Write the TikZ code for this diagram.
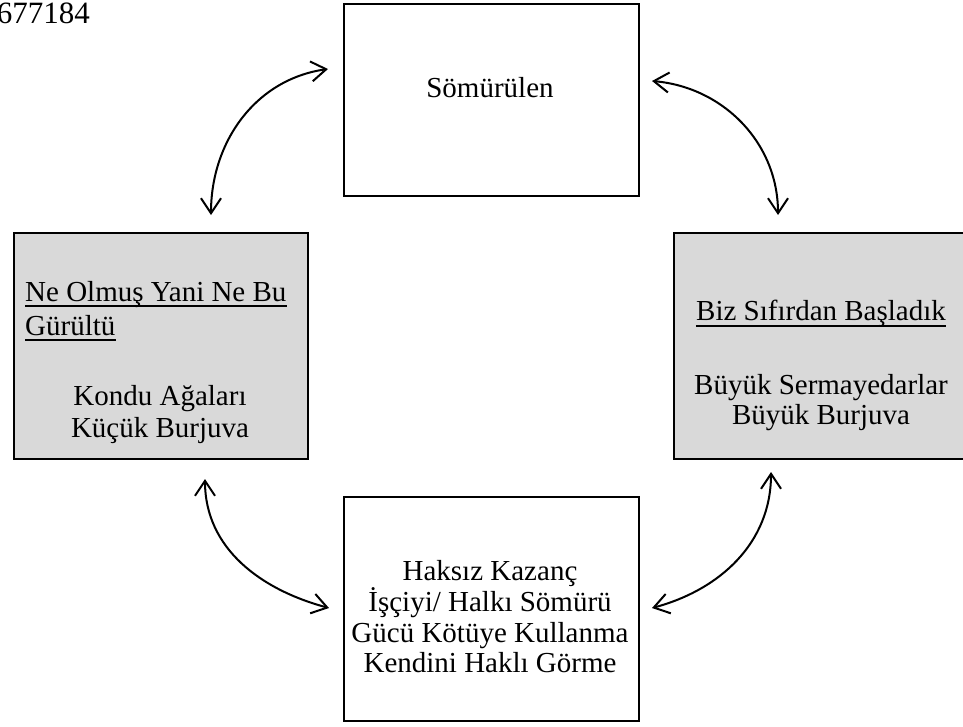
\documentclass[tikz,border=0pt]{standalone}
\usepackage{fontspec}
\setmainfont{Liberation Serif}
\usetikzlibrary{arrows.meta}
\definecolor{boxgrey}{RGB}{217,217,217}
\begin{document}
\begin{tikzpicture}[x=1pt,y=-1pt,
  frame/.style={draw=black,line width=2pt,inner sep=0pt,anchor=north west},
  panel/.style={frame,fill=boxgrey},
  lbl/.style={inner sep=0pt,font=\fontsize{29}{30}\selectfont,anchor=base},
  lbll/.style={lbl,anchor=base west},
  ul/.style={line width=1.5pt},
  link/.style={line width=2pt,
    {Straight Barb[length=15pt,width=20pt]}-{Straight Barb[length=15pt,width=20pt]}}]
\useasboundingbox (0,0) rectangle (963,726);

% reference number
\node[lbl,anchor=base east,font=\fontsize{31}{32}\selectfont] (code) at (90,23) {677184};

% boxes
\node[frame,minimum width=295pt,minimum height=192pt] (top) at (343,3) {};
\node[panel,minimum width=294pt,minimum height=226pt] (left) at (13,232) {};
\node[panel,minimum width=296pt,minimum height=226pt] (right) at (673,232) {};
\node[frame,minimum width=295pt,minimum height=224pt] (bottom) at (343,496) {};

% top box
\node[lbl] (tS) at (490,97) {Sömürülen};

% left box
\node[lbll] (l1) at (25,301) {Ne Olmuş Yani Ne Bu};
\node[lbll] (l2) at (25,335) {Gürültü};
\draw[ul] ([yshift=-5pt]l1.base west) -- ([yshift=-5pt]l1.base east);
\draw[ul] ([yshift=-5pt]l2.base west) -- ([yshift=-5pt]l2.base east);
\node[lbl] (l3) at (160,405) {Kondu Ağaları};
\node[lbl] (l4) at (160,437) {Küçük Burjuva};

% right box
\node[lbl] (r1) at (821,320) {Biz Sıfırdan Başladık};
\draw[ul] ([yshift=-6pt]r1.base west) -- ([yshift=-6pt]r1.base east);
\node[lbl] (r2) at (821,394) {Büyük Sermayedarlar};
\node[lbl] (r3) at (821,424) {Büyük Burjuva};

% bottom box
\node[lbl] (b1) at (490,580) {Haksız Kazanç};
\node[lbl] (b2) at (490,611) {İşçiyi/ Halkı Sömürü};
\node[lbl] (b3) at (490,642) {Gücü Kötüye Kullanma};
\node[lbl] (b4) at (490,672) {Kendini Haklı Görme};

% connector ends
\coordinate (p1) at (328,69);
\coordinate (p2) at (211,215);
\coordinate (p3) at (652,81);
\coordinate (p4) at (778,215);
\coordinate (p5) at (205,479);
\coordinate (p6) at (329,608);
\coordinate (p7) at (771,472);
\coordinate (p8) at (652,608);

% two-way arrows
\draw[link] (p2) to[out=90,in=188] (p1);
\draw[link] (p3) to[out=-5,in=90] (p4);
\draw[link] (p5) to[out=-90,in=165] (p6);
\draw[link] (p7) to[out=-90,in=15] (p8);
\end{tikzpicture}
\end{document}
